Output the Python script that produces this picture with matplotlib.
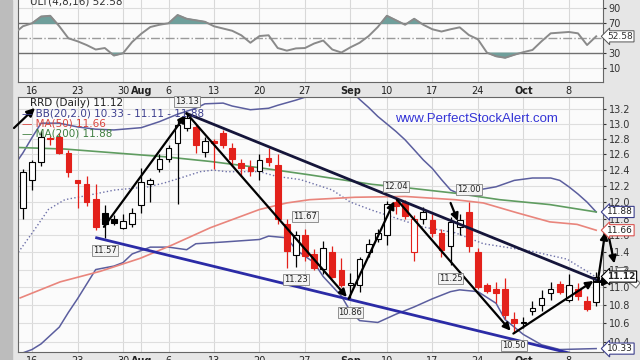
import numpy as np
import matplotlib.pyplot as plt
from matplotlib.patches import Rectangle
from matplotlib.ticker import NullFormatter, NullLocator

# trading-day index, 0 = Mon 16 Jul 2012 (Sep 3 holiday skipped)
days = list(range(-1, 63))
opens = [11.93, 12.27, 12.50, 12.82, 12.83, 12.62, 12.27, 12.22, 12.04, 11.87, 11.80, 11.69, 11.73,
         11.96, 12.22, 12.41, 12.54, 12.75, 12.95, 12.96, 12.63, 12.78, 12.88, 12.68, 12.49, 12.44,
         12.39, 12.56, 12.46, 11.74, 11.37, 11.60, 11.38, 11.21, 11.40, 11.19, 11.03, 11.03, 11.40,
         11.55, 11.60, 12.00, 12.00, 11.40, 11.80, 11.78, 11.63, 11.47, 11.70, 11.88, 11.40, 11.02,
         10.98, 10.98, 10.65, 10.60, 10.73, 10.80, 10.94, 11.04, 10.86, 10.98, 10.85, 10.83]
highs = [12.41, 12.53, 12.90, 12.84, 12.88, 12.66, 12.28, 12.33, 12.23, 11.97, 11.84, 11.85, 11.93,
         12.43, 12.30, 12.60, 12.72, 13.05, 13.13, 13.00, 12.83, 12.80, 12.92, 12.75, 12.54, 12.53,
         12.60, 12.68, 12.60, 11.80, 11.65, 11.67, 11.44, 11.53, 11.47, 11.33, 11.16, 11.35, 11.55,
         11.67, 12.02, 12.04, 12.03, 11.84, 11.94, 11.86, 11.67, 11.82, 11.85, 12.00, 11.45, 11.05,
         11.06, 11.10, 10.72, 10.67, 10.85, 10.97, 11.06, 11.07, 11.15, 11.05, 10.90, 11.17]
lows = [11.79, 12.15, 12.45, 12.72, 12.60, 12.31, 11.93, 11.95, 11.66, 11.57, 11.72, 11.67, 11.70,
        11.87, 12.00, 12.37, 12.50, 11.98, 12.90, 12.62, 12.57, 12.41, 12.68, 12.45, 12.33, 12.32,
        12.27, 12.45, 11.74, 11.22, 11.23, 11.30, 11.19, 11.15, 11.10, 11.00, 10.86, 10.95, 11.35,
        11.52, 11.48, 11.85, 11.80, 11.30, 11.74, 11.58, 11.35, 11.25, 11.60, 11.40, 10.98, 10.94,
        10.82, 10.65, 10.50, 10.55, 10.69, 10.73, 10.86, 10.92, 10.83, 10.86, 10.73, 10.79]
closes = [12.37, 12.50, 12.83, 12.80, 12.62, 12.37, 12.24, 12.00, 11.70, 11.73, 11.75, 11.77, 11.87,
          12.25, 12.27, 12.54, 12.68, 12.98, 13.08, 12.72, 12.77, 12.75, 12.72, 12.54, 12.43, 12.39,
          12.53, 12.50, 11.80, 11.42, 11.60, 11.36, 11.22, 11.45, 11.12, 11.02, 11.04, 11.32, 11.50,
          11.63, 11.98, 11.95, 11.83, 11.80, 11.88, 11.63, 11.43, 11.76, 11.78, 11.47, 11.00, 10.96,
          10.93, 10.69, 10.60, 10.62, 10.77, 10.88, 10.98, 10.95, 11.02, 10.90, 10.76, 11.12]

# indicator readings (day index, value)
bb_up_x = [-2, -1, 0, 1, 3, 5, 7, 9, 12, 14, 16, 18, 19, 21, 22, 24, 26, 27, 29, 30, 31, 33, 35,
           36, 37, 38, 39, 40, 41, 42, 43, 44, 45, 46, 47, 48, 49, 51, 53, 55, 57, 58, 59, 60, 61, 62]
bb_up = [12.45, 12.62, 12.82, 13.01, 13.01, 12.96, 12.93, 12.92, 12.95, 13.03, 13.13, 13.21, 13.27,
         13.28, 13.24, 13.19, 13.21, 13.25, 13.32, 13.36, 13.45, 13.55, 13.45, 13.33, 13.22, 13.10,
         13.00, 12.90, 12.79, 12.66, 12.53, 12.42, 12.28, 12.15, 12.10, 12.12, 12.15, 12.19, 12.27,
         12.30, 12.30, 12.27, 12.19, 12.10, 12.00, 11.88]
bb_lo_x = [-2, 0, 1, 3, 4, 5, 7, 9, 10, 11, 13, 15, 17, 18, 21, 25, 26, 28, 29, 31, 32, 34, 35, 36,
           38, 40, 42, 44, 46, 47, 49, 51, 52, 54, 56, 58, 62]
bb_lo = [10.25, 10.32, 10.38, 10.56, 10.72, 10.87, 11.20, 11.24, 11.28, 11.38, 11.46, 11.46, 11.43,
         11.50, 11.52, 11.55, 11.59, 11.57, 11.43, 11.28, 11.12, 10.90, 10.73, 10.63, 10.61, 10.70,
         10.78, 10.87, 10.95, 10.97, 10.95, 10.82, 10.64, 10.48, 10.37, 10.32, 10.33]
bb_mid_x = [-1.5, 0.3, 1.8, 3.6, 5.5, 9.1, 12.8, 14.6, 16.3, 18.5, 19.9, 21.4, 25.0, 26.9, 29.5,
            33.0, 35.0, 37.4, 39.6, 42.9, 46.5, 49.6, 51.4, 55.0, 58.8, 61.6, 62]
bb_mid = [11.40, 11.67, 11.91, 12.03, 12.07, 12.15, 12.19, 12.24, 12.30, 12.38, 12.40, 12.38, 12.38,
          12.32, 12.28, 12.15, 12.00, 11.90, 11.82, 11.70, 11.63, 11.50, 11.47, 11.41, 11.32, 11.14,
          11.11]
ma50_x = [-1.3, 3.1, 7.5, 11.9, 15.5, 19.6, 25.0, 28.0, 30.5, 35.5, 41.0, 46.5, 49.6, 53.3, 56.9,
          59.9, 62]
ma50 = [10.88, 11.06, 11.18, 11.33, 11.49, 11.69, 11.91, 11.99, 12.03, 12.06, 12.07, 12.03, 11.99,
        11.87, 11.76, 11.73, 11.66]
ma200_x = [-1.5, 3.6, 9.1, 14.6, 19.6, 25.0, 30.5, 37.4, 41.0, 46.5, 51.4, 56.9, 62]
ma200 = [12.69, 12.67, 12.62, 12.57, 12.51, 12.43, 12.34, 12.22, 12.18, 12.11, 12.03, 11.97, 11.88]

ult_x = list(range(-2, 63))
ult = [56, 66, 70, 79, 80, 66, 50, 46, 41, 35, 37, 27, 30, 45, 56, 65, 68, 70, 81, 76, 74, 72, 66,
       63, 60, 54, 44, 53, 54, 37, 33.5, 36.5, 37, 43, 47, 35, 31, 38, 44, 53, 65, 80, 74, 68, 76,
       68, 62, 59, 62, 64.6, 54.4, 48.6, 30.8, 26, 24, 28, 31.5, 34.4, 46, 56.6, 57.5, 58.4, 56.6,
       41, 52.58]

tick_pos = [0, 5, 10, 12, 15, 20, 25, 30, 35, 39, 44, 49, 54, 59]
tick_lab = ['16', '23', '30', 'Aug', '6', '13', '20', '27', 'Sep', '10', '17', '24', 'Oct', '8']

# swing labels: (day, price, text, above?)
swings = [(17, 13.13, '13.13', True), (8, 11.57, '11.57', False), (30, 11.67, '11.67', True),
          (29, 11.23, '11.23', False), (35, 10.86, '10.86', False), (40, 12.04, '12.04', True),
          (48, 12.00, '12.00', True), (46, 11.25, '11.25', False), (53, 10.50, '10.50', False)]

# hand-drawn arrows (from day, from price, to day, to price, head?)
arrows = [(7.9, 11.70, 16.9, 13.12, True), (17.0, 13.14, 34.6, 10.89, True),
          (34.8, 10.87, 39.8, 12.01, True), (40.1, 12.03, 52.6, 10.52, True),
          (46.0, 11.99, 46.8, 11.77, True), (52.9, 10.49, 61.7, 11.07, True),
          (61.8, 11.06, 63.6, 11.06, True), (62.2, 11.08, 63.0, 11.64, True),
          (63.3, 11.63, 64.0, 11.27, True)]
trend_x = [17.0, 62.6]
trend_y = [13.14, 11.06]
support_x = [7.1, 62.6]
support_y = [11.57, 10.20]


def fx(px):
    return px / 640


def fy(py):
    return 1 - py / 360


fig = plt.figure(figsize=(6.4, 3.6), dpi=100)
fig.patch.set_facecolor('#e6e6e6')
fig.add_artist(Rectangle((0, 0), fx(12), 1, transform=fig.transFigure, color='#bcbcbc', zorder=0))

ax_u = fig.add_axes([fx(18), fy(82), fx(585), 87 / 360])
ax_p = fig.add_axes([fx(18), fy(352), fx(585), 255 / 360])

for ax in (ax_u, ax_p):
    ax.set_facecolor('#fbfbfb')
    ax.set_xlim(-1.54, 62.75)
    ax.set_xticks(tick_pos)
    ax.set_xticklabels(tick_lab)
    for lab in ax.get_xticklabels():
        if lab.get_text() in ('Aug', 'Sep', 'Oct'):
            lab.set_fontweight('bold')
    ax.tick_params(axis='x', length=0, labelsize=7, pad=3, colors='#222222')
    ax.yaxis.tick_right()
    ax.tick_params(axis='y', length=2, labelsize=7, pad=2, colors='#333333')
    ax.grid(axis='x', color='#d8d8d8', lw=0.8)
    for s in ax.spines.values():
        s.set_color('#666666')
        s.set_linewidth(0.8)

# ---- ULT panel
ax_u.set_ylim(-8.3, 107.7)
ax_u.set_yticks([10, 30, 70, 90])
for v in (10, 90):
    ax_u.axhline(v, color='#dcdcdc', lw=0.8)
ax_u.axhline(70, color='#707070', lw=1)
ax_u.axhline(30, color='#707070', lw=1)
ax_u.axhline(50, color='#9a9a9a', lw=1, ls='-.')
ult_a = np.array(ult)
ax_u.fill_between(ult_x, ult_a, 70, where=ult_a > 70, interpolate=True, color='#6f9f9b', zorder=2)
ax_u.fill_between(ult_x, ult_a, 30, where=ult_a < 30, interpolate=True, color='#6f9f9b', zorder=2)
ax_u.plot(ult_x, ult, color='#8a8a8a', lw=1.4, zorder=3)
ax_u.annotate('52.58', xy=(1, ult[-1]), xycoords=('axes fraction', 'data'), xytext=(3, 0),
              textcoords='offset points', ha='left', va='center', fontsize=6.5, color='#333333',
              bbox=dict(boxstyle='larrow,pad=0.12', fc='white', ec='#555555', lw=0.7),
              annotation_clip=False)
fig.text(fx(30), fy(1), 'ULT(4,8,16) 52.58', fontsize=7.5, color='#333333', va='center')

# ---- price panel
ax_p.set_yscale('log')
ax_p.set_ylim(10.294, 13.363)
pt = np.round(np.arange(10.4, 13.21, 0.2), 1)
ax_p.set_yticks(pt)
ax_p.set_yticklabels(['%.1f' % v for v in pt])
ax_p.yaxis.set_minor_locator(NullLocator())
ax_p.yaxis.set_minor_formatter(NullFormatter())
ax_p.grid(axis='y', color='#dedede', lw=0.8)

ax_p.plot(bb_up_x, bb_up, color='#5b5e9e', lw=1.1, zorder=2)
ax_p.plot(bb_lo_x, bb_lo, color='#5b5e9e', lw=1.1, zorder=2)
ax_p.plot(bb_mid_x, bb_mid, color='#6d70a8', lw=1, ls=':', zorder=2)
ax_p.plot(ma50_x, ma50, color='#e9857c', lw=1.2, zorder=2)
ax_p.plot(ma200_x, ma200, color='#5f9c60', lw=1.2, zorder=2)

for k in range(len(days)):
    o, h, l, c = opens[k], highs[k], lows[k], closes[k]
    prev = closes[k - 1] if k > 0 else o
    col = 'black' if c >= prev else '#e3211b'
    face = 'white' if c > o else col
    ax_p.vlines(days[k], l, h, color=col, lw=0.9, zorder=3)
    bot, top = min(o, c), max(o, c)
    if top - bot < 0.012:
        top = bot + 0.012
    ax_p.bar(days[k], top - bot, bottom=bot, width=0.62, facecolor=face, edgecolor=col,
             lw=0.8, zorder=4)

ax_p.plot(support_x, support_y, color='#2b2ba6', lw=2, zorder=5)
ax_p.plot(trend_x, trend_y, color='#15153a', lw=2, zorder=5, clip_on=False)
for x0, y0, x1, y1, head in arrows:
    ax_p.annotate('', xy=(x1, y1), xytext=(x0, y0), annotation_clip=False, zorder=6,
                  arrowprops=dict(arrowstyle='-|>' if head else '-', color='black', lw=1.6,
                                  mutation_scale=11, shrinkA=0, shrinkB=0))
ax_p.annotate('', xy=(64.2, 11.22), xytext=(66.6, 11.02), annotation_clip=False, zorder=6,
              arrowprops=dict(arrowstyle='simple,head_width=0.9,tail_width=0.4', fc='white',
                              ec='#777777', lw=0.8, mutation_scale=12, shrinkA=0, shrinkB=0))

for d, v, t, above in swings:
    ax_p.annotate(t, xy=(d, v), xytext=(0, 6 if above else -6), textcoords='offset points',
                  ha='center', va='bottom' if above else 'top', fontsize=6, color='#222222',
                  zorder=7, bbox=dict(boxstyle='square,pad=0.12', fc='#f3f3f3', ec='#808080', lw=0.6))

tags = [('11.88', 11.88, '#3c3f8c', 'normal'), ('11.66', 11.66, '#d9534f', 'normal'),
        ('11.12', 11.12, 'black', 'bold'), ('10.33', 10.33, '#3c3f8c', 'normal')]
for t, v, col, wt in tags:
    ax_p.annotate(t, xy=(1, v), xycoords=('axes fraction', 'data'), xytext=(3, 0),
                  textcoords='offset points', ha='left', va='center', fontsize=6.5,
                  fontweight=wt, color='#222222', annotation_clip=False, zorder=8,
                  bbox=dict(boxstyle='larrow,pad=0.12', fc='white', ec=col, lw=0.8))

# legend block
fig.text(fx(30), fy(103), 'RRD (Daily) 11.12', fontsize=7.5, color='#222222', va='center')
fig.text(fx(22), fy(113), '\u2014 BB(20,2.0) 10.33 - 11.11 - 11.88', fontsize=7.5,
         color='#3d3f8f', va='center')
fig.text(fx(22), fy(123), '\u2014 MA(50) 11.66', fontsize=7.5, color='#d9443c', va='center')
fig.text(fx(22), fy(133), '\u2014 MA(200) 11.88', fontsize=7.5, color='#3f7f40', va='center')
fig.text(fx(395), fy(119), 'www.PerfectStockAlert.com', fontsize=9.5, color='#3434d6',
         family='Liberation Sans', va='center')
ax_p.annotate('', xy=(fx(35), fy(108)), xytext=(fx(14), fy(128)), xycoords='figure fraction',
              arrowprops=dict(arrowstyle='-|>', color='black', lw=1.6, mutation_scale=12,
                              shrinkA=0, shrinkB=0))

fig.savefig('out.png', dpi=100, facecolor=fig.get_facecolor())
